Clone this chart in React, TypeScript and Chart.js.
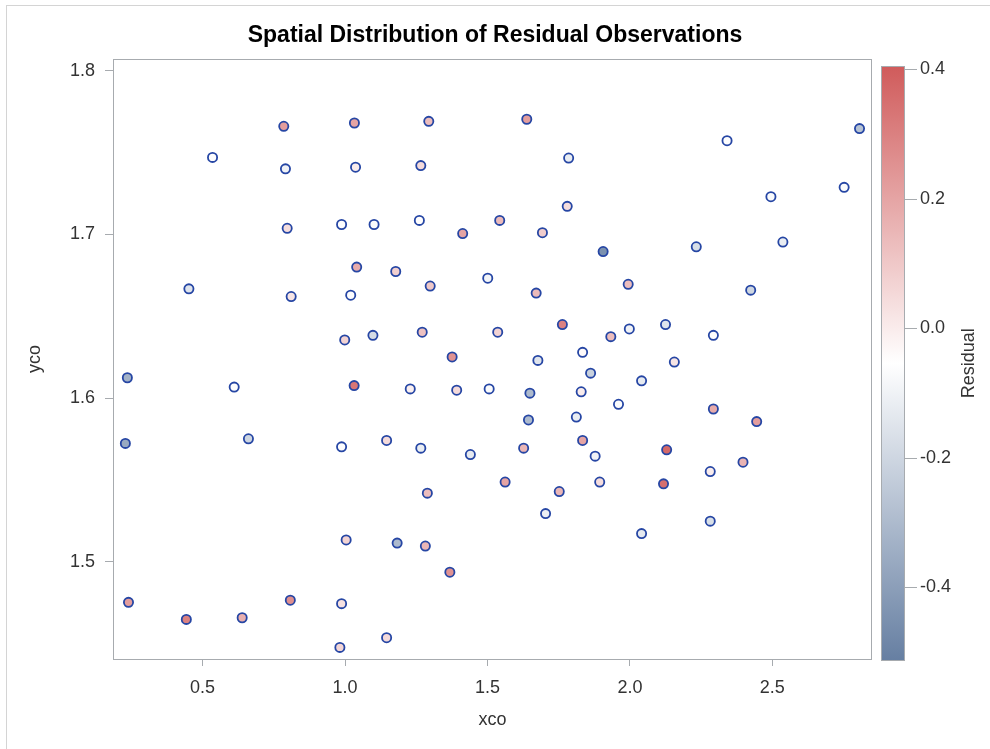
import React, { useEffect, useRef } from "react";
import { Chart, registerables } from "chart.js";

Chart.register(...registerables);

const TITLE = "Spatial Distribution of Residual Observations";
const X_TITLE = "xco";
const Y_TITLE = "yco";
const C_TITLE = "Residual";

const XCO = [
  0.535, 0.785, 1.033, 1.294, 0.791, 1.037, 1.266, 0.797, 0.988, 1.102,
  1.261, 1.413, 1.543, 0.452, 0.811, 1.020, 1.041, 1.178, 1.299, 1.501,
  0.999, 1.098, 1.271, 1.376, 1.536, 1.638, 1.785, 2.341, 2.806, 1.780,
  1.693, 1.906, 2.233, 2.537, 2.495, 2.752, 1.671, 1.994, 2.424, 1.763,
  1.933, 1.998, 2.125, 2.293, 1.677, 1.834, 2.156, 0.236, 0.611, 1.032,
  1.229, 1.392, 1.506, 0.229, 0.661, 0.988, 1.146, 1.266, 1.440, 1.289,
  1.004, 1.183, 1.282, 1.368, 0.240, 0.443, 0.639, 0.808, 0.988, 1.146,
  0.982, 1.862, 2.041, 1.649, 1.829, 1.960, 2.293, 2.445, 1.644, 1.812,
  1.627, 1.834, 1.878, 2.129, 2.397, 2.282, 1.562, 1.752, 1.894, 2.118,
  1.704, 2.041, 2.282,
];

const YCO = [
  1.747, 1.766, 1.768, 1.769, 1.740, 1.741, 1.742, 1.7037, 1.706, 1.706,
  1.7085, 1.7005, 1.7085, 1.6667, 1.662, 1.6628, 1.680, 1.6773, 1.6684, 1.6732,
  1.6355, 1.6383, 1.6402, 1.6251, 1.6402, 1.7703, 1.7466, 1.7572, 1.7646, 1.7171,
  1.701, 1.6895, 1.6924, 1.6953, 1.723, 1.7287, 1.6641, 1.6695, 1.6659, 1.6449,
  1.6375, 1.6422, 1.6449, 1.6383, 1.623, 1.6279, 1.622, 1.6124, 1.6067, 1.6076,
  1.6056, 1.6048, 1.6056, 1.5723, 1.5751, 1.5702, 1.5741, 1.5694, 1.5655, 1.5419,
  1.5133, 1.5114, 1.5096, 1.4936, 1.4752, 1.4648, 1.4658, 1.4765, 1.4744, 1.4536,
  1.4477, 1.6152, 1.6105, 1.603, 1.6038, 1.5962, 1.5933, 1.5856, 1.5866, 1.5884,
  1.5694, 1.5741, 1.5645, 1.5684, 1.5608, 1.5551, 1.5487, 1.5429, 1.5487, 1.5476,
  1.5294, 1.5172, 1.5248,
];

const RESIDUAL = [
  -0.06, 0.22, 0.2, 0.13, -0.1, 0.0, 0.05, 0.04, -0.06, -0.07,
  -0.05, 0.2, 0.14, -0.15, 0.02, -0.06, 0.18, 0.08, 0.1, -0.09,
  0.07, -0.18, 0.12, 0.25, 0.07, 0.22, -0.12, -0.06, -0.27, 0.04,
  0.09, -0.45, -0.17, -0.12, -0.07, -0.07, 0.14, 0.13, -0.2, 0.3,
  0.13, -0.1, -0.15, -0.06, -0.15, -0.04, 0.02, -0.33, -0.06, 0.33,
  -0.01, 0.05, -0.07, -0.36, -0.2, -0.06, 0.05, -0.12, -0.13, 0.13,
  0.07, -0.3, 0.15, 0.25, 0.22, 0.3, 0.17, 0.26, 0.03, 0.05,
  0.06, -0.22, -0.13, -0.3, 0.0, -0.07, 0.18, 0.22, -0.3, -0.12,
  0.15, 0.2, -0.1, 0.37, 0.16, 0.0, 0.2, 0.15, 0.04, 0.35,
  -0.11, -0.13, -0.17,
];

const X_TICKS = [0.5, 1.0, 1.5, 2.0, 2.5];
const Y_TICKS = [1.5, 1.6, 1.7, 1.8];
const C_TICKS = [-0.4, -0.2, 0.0, 0.2, 0.4];

const X_MIN = 0.1856;
const X_MAX = 2.8498;
const Y_MIN = 1.4406;
const Y_MAX = 1.8071;
const C_MIN = -0.513;
const C_MAX = 0.405;
const C_AXIS_MIN = -0.5107;
const C_AXIS_MAX = 0.4159;

const LOW = [102, 127, 162];
const MID = [255, 255, 255];
const HIGH = [208, 91, 91];

const FONT = "'Liberation Sans', Arial, Helvetica, sans-serif";
const FRAME = "#a7abaf";
const TEXT = "#333333";

function rgb(c: number[]) {
  return `rgb(${Math.round(c[0])},${Math.round(c[1])},${Math.round(c[2])})`;
}

function colorFor(v: number) {
  let t = (v - C_MIN) / (C_MAX - C_MIN);
  t = Math.max(0, Math.min(1, t));
  let a: number[], b: number[], u: number;
  if (t < 0.5) {
    a = LOW; b = MID; u = t / 0.5;
  } else {
    a = MID; b = HIGH; u = (t - 0.5) / 0.5;
  }
  return rgb([0, 1, 2].map((i) => a[i] + (b[i] - a[i]) * u));
}

function fmt(v: number) {
  return Number(v).toFixed(1);
}

const decor = {
  id: "decor",
  beforeDatasetsDraw(chart: any) {
    const { ctx, chartArea: ca } = chart;
    ctx.save();
    ctx.strokeStyle = FRAME;
    ctx.lineWidth = 1;
    ctx.strokeRect(
      Math.round(ca.left) + 0.5,
      Math.round(ca.top) + 0.5,
      Math.round(ca.right) - Math.round(ca.left) - 1,
      Math.round(ca.bottom) - Math.round(ca.top)
    );

    const cs = chart.scales.c;
    const yTop = cs.getPixelForValue(C_MAX);
    const yBot = cs.getPixelForValue(C_MIN);
    const x0 = Math.round(ca.right) + 9;
    const w = 23;
    const g = ctx.createLinearGradient(0, yTop, 0, yBot);
    g.addColorStop(0, rgb(HIGH));
    g.addColorStop(0.5, rgb(MID));
    g.addColorStop(1, rgb(LOW));
    ctx.fillStyle = g;
    ctx.fillRect(x0, yTop, w, yBot - yTop);
    ctx.strokeStyle = FRAME;
    ctx.strokeRect(x0 + 0.5, Math.round(yTop) + 0.5, w, Math.round(yBot - yTop));

    ctx.beginPath();
    for (const t of cs.ticks) {
      const y = Math.round(cs.getPixelForValue(t.value)) + 0.5;
      ctx.moveTo(x0 + w + 0.5, y);
      ctx.lineTo(x0 + w + 13, y);
    }
    ctx.stroke();

    ctx.fillStyle = TEXT;
    ctx.font = `18px ${FONT}`;
    ctx.textAlign = "center";
    ctx.textBaseline = "middle";
    ctx.translate(969, (yTop + yBot) / 2);
    ctx.rotate(-Math.PI / 2);
    ctx.fillText(C_TITLE, 0, 0);
    ctx.restore();
  },
};

export default function App() {
  const ref = useRef<HTMLCanvasElement | null>(null);

  useEffect(() => {
    if (!ref.current) return;
    const points = XCO.map((x, i) => ({ x, y: YCO[i] }));
    const chart = new Chart(ref.current, {
      type: "scatter",
      data: {
        datasets: [
          {
            data: points,
            pointRadius: 4.6,
            pointHoverRadius: 4.6,
            pointBorderWidth: 1.8,
            pointBorderColor: "#2646a4",
            pointBackgroundColor: RESIDUAL.map(colorFor),
            showLine: false,
          } as any,
        ],
      },
      options: {
        responsive: false,
        maintainAspectRatio: false,
        animation: false,
        layout: { padding: 0 },
        plugins: {
          legend: { display: false },
          tooltip: { enabled: false },
          title: {
            display: true,
            text: TITLE,
            color: "#000000",
            font: { family: FONT, size: 23, weight: "bold" },
            padding: { top: 21.4, bottom: 10 },
          },
        },
        scales: {
          x: {
            type: "linear",
            position: "bottom",
            min: X_MIN,
            max: X_MAX,
            afterBuildTicks: (s: any) => {
              s.ticks = X_TICKS.map((v) => ({ value: v }));
            },
            afterFit: (s: any) => {
              s.height = 90;
            },
            grid: {
              display: true,
              drawOnChartArea: false,
              drawTicks: true,
              tickLength: 7,
              color: FRAME,
            },
            border: { display: false },
            ticks: {
              color: TEXT,
              font: { family: FONT, size: 18 },
              padding: 11,
              maxRotation: 0,
              callback: (v: any) => fmt(v),
            },
            title: {
              display: true,
              text: X_TITLE,
              color: TEXT,
              font: { family: FONT, size: 18 },
              padding: 18,
            },
          },
          y: {
            type: "linear",
            position: "left",
            min: Y_MIN,
            max: Y_MAX,
            afterBuildTicks: (s: any) => {
              s.ticks = Y_TICKS.map((v) => ({ value: v }));
            },
            afterFit: (s: any) => {
              s.width = 113;
            },
            grid: {
              display: true,
              drawOnChartArea: false,
              drawTicks: true,
              tickLength: 8,
              color: FRAME,
            },
            border: { display: false },
            ticks: {
              color: TEXT,
              font: { family: FONT, size: 18 },
              padding: 10,
              callback: (v: any) => fmt(v),
            },
            title: {
              display: true,
              text: Y_TITLE,
              color: TEXT,
              font: { family: FONT, size: 18 },
              padding: 24.7,
            },
          },
          c: {
            type: "linear",
            axis: "y",
            position: "right",
            min: C_AXIS_MIN,
            max: C_AXIS_MAX,
            afterBuildTicks: (s: any) => {
              s.ticks = C_TICKS.map((v) => ({ value: v }));
            },
            afterFit: (s: any) => {
              s.width = 118;
            },
            grid: {
              display: true,
              drawOnChartArea: false,
              drawTicks: false,
              color: "rgba(0,0,0,0)",
            },
            border: { display: false },
            ticks: {
              color: TEXT,
              font: { family: FONT, size: 18 },
              padding: 48,
              callback: (v: any) => fmt(v),
            },
          } as any,
        },
      },
      plugins: [decor],
    });
    return () => chart.destroy();
  }, []);

  return (
    <div style={{ position: "absolute", left: 0, top: 0, width: 990, height: 749, background: "#ffffff" }}>
      <canvas ref={ref} width={990} height={749} style={{ display: "block", width: 990, height: 749 }} />
      <div
        style={{
          position: "absolute",
          left: 6,
          top: 5,
          right: 0,
          bottom: 0,
          borderLeft: "1px solid #d4d4d4",
          borderTop: "1px solid #d4d4d4",
          pointerEvents: "none",
        }}
      />
    </div>
  );
}
